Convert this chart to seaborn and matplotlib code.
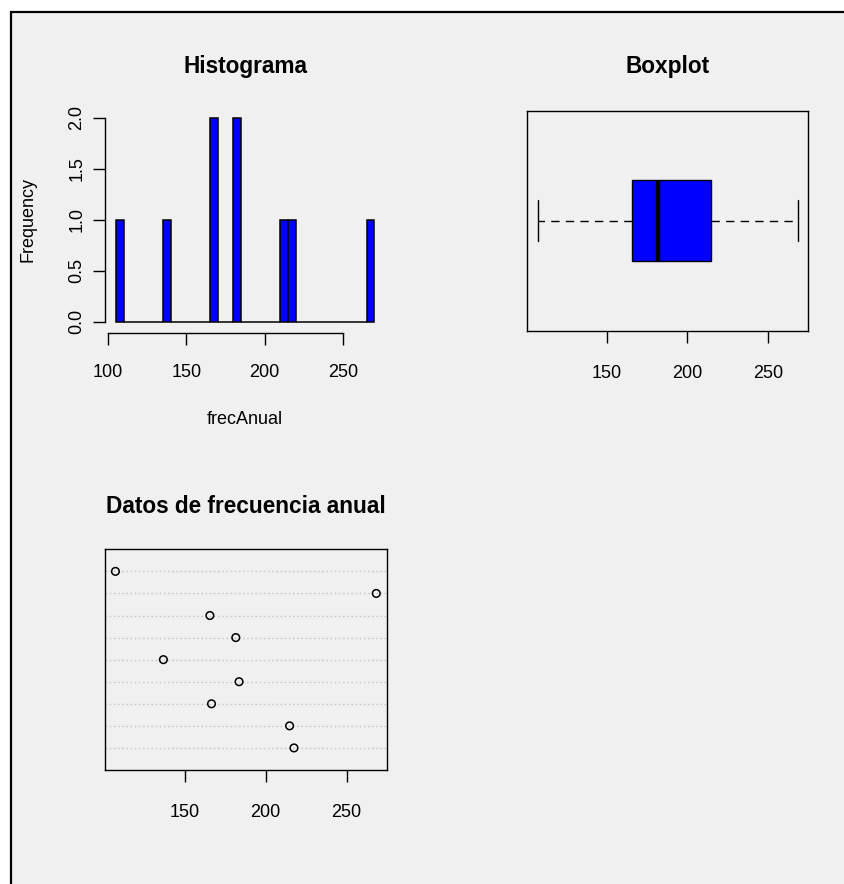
import numpy as np
import matplotlib
matplotlib.use("Agg")
import matplotlib.pyplot as plt
from matplotlib.patches import Rectangle
import seaborn as sns

# Annual frequency observations (in recording order)
frec_anual = [217.5, 214.8, 166.6, 183.6, 136.9, 181.6, 165.6, 268.3, 107.3]
hist_breaks = list(range(105, 275, 5))
hist_xticks = [100, 150, 200, 250]
hist_yticks = [0.0, 0.5, 1.0, 1.5, 2.0]
other_xticks = [150, 200, 250]
titles = ["Histograma", "Boxplot", "Datos de frecuencia anual"]
hist_xlabel = "frecAnual"
hist_ylabel = "Frequency"

sns.set_style("ticks")
plt.rcParams["font.family"] = ["Liberation Sans", "DejaVu Sans"]
plt.rcParams["text.color"] = "black"
plt.rcParams["axes.labelcolor"] = "black"
plt.rcParams["axes.titlecolor"] = "black"
plt.rcParams["xtick.color"] = "black"
plt.rcParams["ytick.color"] = "black"

W, H, DPI = 845, 884, 100
BG = "#f0f0f0"
TICK_FS = 13
TITLE_FS = 16.3
TICK_LEN = 8.4

fig = plt.figure(figsize=(W / DPI, H / DPI), dpi=DPI, facecolor="white")
fig.patches.append(Rectangle((11 / W, -0.2), 1.5, (H - 12) / H + 0.2,
                             transform=fig.transFigure, facecolor=BG,
                             edgecolor="black", linewidth=1.6, zorder=-10))


def px_axes(left, top, right, bottom):
    ax = fig.add_axes([left / W, 1 - bottom / H, (right - left) / W, (bottom - top) / H])
    ax.set_facecolor(BG)
    ax.patch.set_alpha(0)
    return ax


def style_ticks(ax):
    ax.tick_params(direction="out", length=TICK_LEN, width=1, color="black",
                   labelsize=TICK_FS, labelcolor="black")
    for s in ax.spines.values():
        s.set_color("black")
        s.set_linewidth(1)


# ---- Histogram ----
ax1 = px_axes(105.5, 109.5, 384.8, 330)
sns.histplot(x=frec_anual, bins=hist_breaks, stat="count", color="blue",
             edgecolor="black", linewidth=1.1, alpha=1, ax=ax1)
ax1.set_xlim(98.4, 276.6)
ax1.set_ylim(-0.08, 2.08)
ax1.spines["top"].set_visible(False)
ax1.spines["right"].set_visible(False)
ax1.spines["left"].set_bounds(0, 2)
ax1.spines["bottom"].set_bounds(100, 250)
ax1.spines["bottom"].set_position(("outward", 2))
ax1.set_xticks(hist_xticks)
ax1.set_xticklabels([str(v) for v in hist_xticks])
ax1.set_yticks(hist_yticks)
ax1.set_yticklabels([f"{v:.1f}" for v in hist_yticks], rotation=90, va="center")
style_ticks(ax1)
ax1.tick_params(axis="x", pad=14)
ax1.tick_params(axis="y", pad=6)
ax1.set_xlabel(hist_xlabel, fontsize=TICK_FS, color="black")
ax1.set_ylabel(hist_ylabel, fontsize=TICK_FS, color="black")
ax1.xaxis.label.set_va("center")
ax1.xaxis.set_label_coords(0.5, (330 - 420) / (330 - 109.5))
ax1.yaxis.label.set_rotation_mode("default")
ax1.yaxis.label.set_va("center")
ax1.yaxis.set_label_coords((28 - 105.5) / (384.8 - 105.5), 0.5)
ax1.set_title(titles[0], fontsize=TITLE_FS, fontweight="bold", pad=26, color="black")

# ---- Boxplot ----
ax2 = px_axes(527.3, 110.7, 808, 330.7)
sns.boxplot(x=frec_anual, orient="y", width=0.4, color="blue", saturation=1,
            linecolor="black", linewidth=1, whis=1.5, ax=ax2,
            medianprops=dict(linewidth=3.2, color="black"),
            whiskerprops=dict(linestyle=(0, (6, 4.5)), color="black"),
            capprops=dict(color="black"))
ax2.set_xlim(100.86, 274.74)
ax2.set_ylim(0.54, -0.54)
ax2.set_yticks([])
ax2.set_xticks(other_xticks)
ax2.set_xticklabels([str(v) for v in other_xticks])
ax2.set_xlabel("")
ax2.set_ylabel("")
style_ticks(ax2)
ax2.tick_params(axis="x", pad=16)
ax2.set_title(titles[1], fontsize=TITLE_FS, fontweight="bold", pad=27, color="black")

# ---- Dot chart ----
ax3 = px_axes(105, 549.3, 386.7, 770)
positions = np.arange(1, len(frec_anual) + 1)
for p in positions:
    ax3.axhline(p, color="#c8c8c8", linestyle=(0, (1.2, 1.8)), linewidth=1, zorder=1)
sns.scatterplot(x=frec_anual, y=positions, marker="o", s=30, facecolor="none",
                edgecolor="black", linewidth=1.1, ax=ax3, zorder=3)
ax3.set_xlim(100.86, 274.74)
ax3.set_ylim(0, 10)
ax3.set_yticks([])
ax3.set_xticks(other_xticks)
ax3.set_xticklabels([str(v) for v in other_xticks])
style_ticks(ax3)
ax3.tick_params(axis="x", pad=16)
ax3.set_title(titles[2], fontsize=TITLE_FS, fontweight="bold", pad=26, color="black")

fig.savefig("out.png", dpi=DPI, facecolor="white")
